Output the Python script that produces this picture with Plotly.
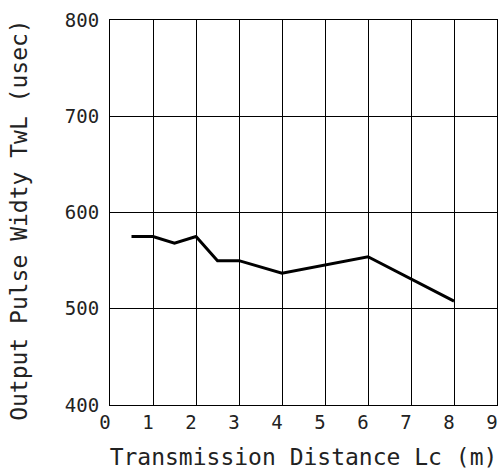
import plotly.graph_objects as go

distance_m = [0.5, 1, 1.5, 2, 2.5, 3, 4, 6, 8]
pulse_width_usec = [575, 575, 568, 575, 550, 550, 537, 554, 508]

x_ticks = [0, 1, 2, 3, 4, 5, 6, 7, 8, 9]
y_ticks = [400, 500, 600, 700, 800]

FONT = "DejaVu Sans Mono"

fig = go.Figure()
fig.add_trace(go.Scatter(
    x=distance_m, y=pulse_width_usec, mode="lines",
    line=dict(color="black", width=3), showlegend=False,
))

fig.update_layout(
    width=501, height=470,
    margin=dict(l=110, r=4, t=20, b=65),
    paper_bgcolor="white", plot_bgcolor="white",
    font=dict(family=FONT, color="#222"),
    xaxis=dict(
        range=[0, 9], tickvals=x_ticks, ticktext=[str(v) for v in x_ticks],
        showgrid=True, gridcolor="black", gridwidth=1,
        showline=True, linecolor="black", linewidth=1, mirror=True,
        zeroline=False, ticks="", tickfont=dict(size=19, family=FONT),
        automargin=False, ticklabeloverflow="allow", ticklabelshift=-5,
        title=dict(text="Transmission Distance Lc (m)", font=dict(size=23, family=FONT), standoff=18),
    ),
    yaxis=dict(
        range=[400, 800], tickvals=y_ticks, ticktext=[str(v) for v in y_ticks],
        showgrid=True, gridcolor="black", gridwidth=1,
        showline=True, linecolor="black", linewidth=1, mirror=True,
        zeroline=False, ticks="", tickfont=dict(size=19, family=FONT),
        ticklabelstandoff=6, automargin=False, ticklabeloverflow="allow",
    ),
    annotations=[dict(
        text="Output Pulse Widty TwL (usec)", textangle=-90,
        xref="paper", yref="paper", x=-0.235, y=0.481,
        xanchor="center", yanchor="middle", showarrow=False,
        font=dict(size=23, family=FONT, color="#222"),
    )],
)

# remove the default 8px page margin so the 501x470 figure fills the window exactly
fig.write_html("out.html", config={"displayModeBar": False},
               post_script="document.body.style.margin='0';")
